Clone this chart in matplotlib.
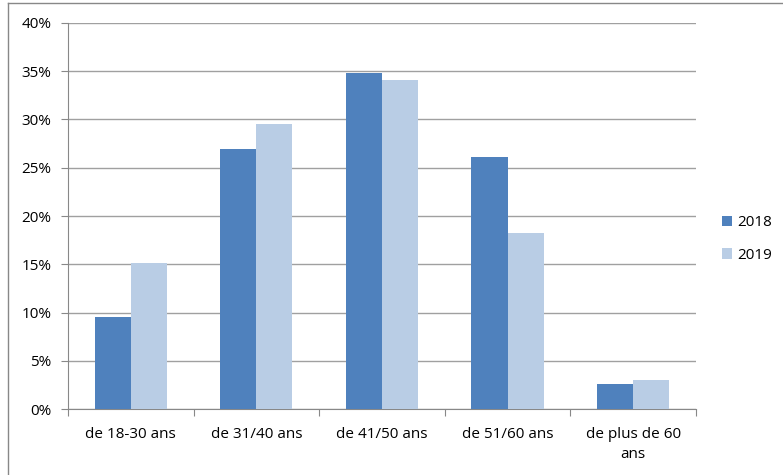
import matplotlib
matplotlib.use('Agg')
import numpy as np
from matplotlib import pyplot as plt
from matplotlib.lines import Line2D

categories = ['de 18-30 ans', 'de 31/40 ans', 'de 41/50 ans', 'de 51/60 ans', 'de plus de 60\nans']
v2018 = [9.5, 26.9, 34.8, 26.1, 2.6]
v2019 = [15.1, 29.5, 34.1, 18.2, 3.0]
yticks = [0, 5, 10, 15, 20, 25, 30, 35, 40]

plt.rcParams['font.family'] = ['Open Sans', 'DejaVu Sans']

fig = plt.figure(figsize=(7.83, 4.75), dpi=100)
ax = fig.add_axes([0.0868, 0.1389, 0.802, 0.8127])

x = np.arange(len(categories))
w = 0.287
ax.bar(x - w / 2, v2018, w, color='#4F81BD', label='2018', zorder=3)
ax.bar(x + w / 2, v2019, w, color='#B9CDE5', label='2019', zorder=3)

ax.set_xlim(-0.5, len(categories) - 0.5)
ax.set_ylim(0, 40)
ax.set_yticks(yticks)
ax.set_yticklabels(['%d%%' % t for t in yticks], fontsize=11)
ax.yaxis.grid(True, color='#A0A0A0', linewidth=1, zorder=0)

ax.set_xticks(np.arange(len(categories) + 1) - 0.5)
ax.set_xticklabels([])
ax.set_xticks(x, minor=True)
ax.set_xticklabels(categories, minor=True, fontsize=11, linespacing=1.45)
ax.tick_params(axis='x', which='minor', length=0, pad=13)
ax.tick_params(axis='x', which='major', length=5, color='#888888')
ax.tick_params(axis='y', length=5, color='#888888', pad=7)

for s in ['top', 'right']:
    ax.spines[s].set_visible(False)
for s in ['left', 'bottom']:
    ax.spines[s].set_color('#888888')

leg = fig.legend(loc='center left', bbox_to_anchor=(722 / 783, 1 - 239 / 475), frameon=False,
                 fontsize=11, handlelength=0.65, handleheight=0.65, labelspacing=1.15,
                 handletextpad=0.35, borderpad=0, borderaxespad=0)

# outer chart frame (only left and top edges are inside the image)
fig.add_artist(Line2D([8 / 783, 8 / 783], [0, 1 - 3 / 475], transform=fig.transFigure,
                      color='#888888', linewidth=1))
fig.add_artist(Line2D([8 / 783, 1], [1 - 3 / 475, 1 - 3 / 475], transform=fig.transFigure,
                      color='#888888', linewidth=1))

fig.savefig('out.png', dpi=100)
